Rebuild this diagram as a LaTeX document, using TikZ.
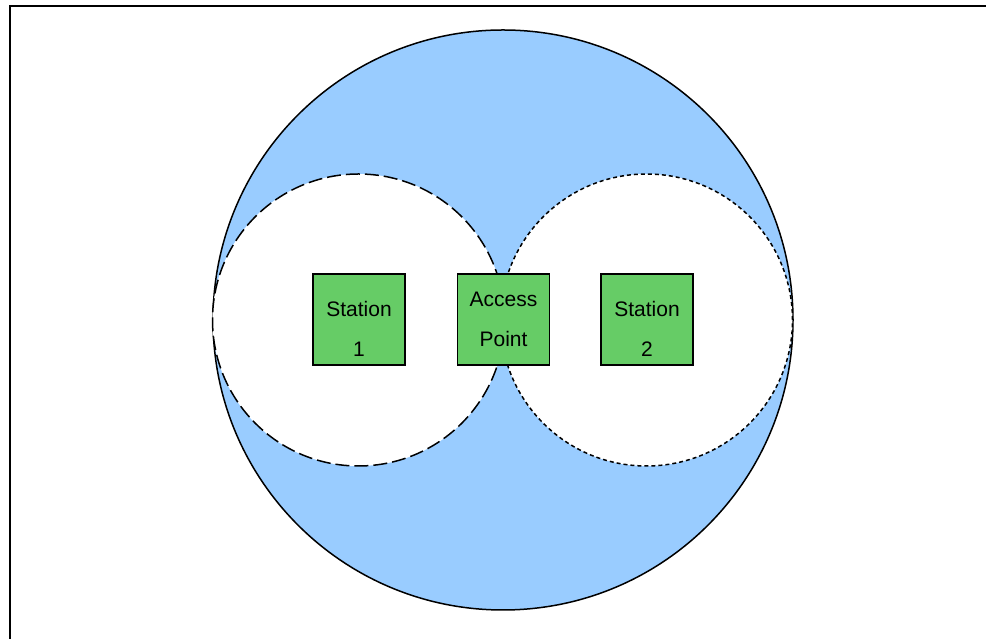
\documentclass[tikz,border=0pt]{standalone}
\usepackage{fontspec}
\setmainfont{Liberation Sans}
\usetikzlibrary{positioning}

\definecolor{cellblue}{HTML}{99CCFF}
\definecolor{boxgreen}{HTML}{66CC66}

\begin{document}
\begin{tikzpicture}[
    x=1pt, y=1pt,
    % Global Styles
    font=\fontsize{21}{40}\selectfont,
    % Coverage areas
    bigcell/.style={circle, draw=black, line width=1.5pt, fill=cellblue, minimum size=580pt, inner sep=0pt},
    cellfill/.style={circle, fill=white, minimum size=292pt, inner sep=0pt},
    cellline/.style={line width=1.5pt, draw=black},
    % The device boxes
    device/.style={rectangle, draw=black, line width=1.2pt, fill=boxgreen, minimum width=92pt, minimum height=91pt, inner sep=0pt, align=center},
    devtext/.style={align=center, inner sep=0pt},
    % Page frame
    frame/.style={line width=2pt}
]

    % --- Canvas ---
    \useasboundingbox (0,0) rectangle (986,639);
    \draw[frame] (986,633) -- (10,633) -- (10,0);

    % --- Coverage Areas ---
    \node[bigcell] (apcell) at (503,319) {};
    \node[cellfill] (cell1) at (358.5,319) {};
    \node[cellfill] (cell2) at (646.5,319) {};

    % --- Cell Borders ---
    \draw[cellline, dash pattern=on 14pt off 5pt] (cell1.center) circle[radius=146];
    \draw[cellline, dash pattern=on 4pt off 3pt] (cell2.center) circle[radius=146];

    % --- Devices ---
    \node[device] (sta1) at (359,319.5) {};
    \node[devtext] (sta1txt) at ([yshift=-9]sta1.center) {Station\\1};

    \node[device] (ap) at (503.5,319.5) {Access\\Point};

    \node[device] (sta2) at (647,319.5) {};
    \node[devtext] (sta2txt) at ([yshift=-9]sta2.center) {Station\\2};

\end{tikzpicture}
\end{document}
